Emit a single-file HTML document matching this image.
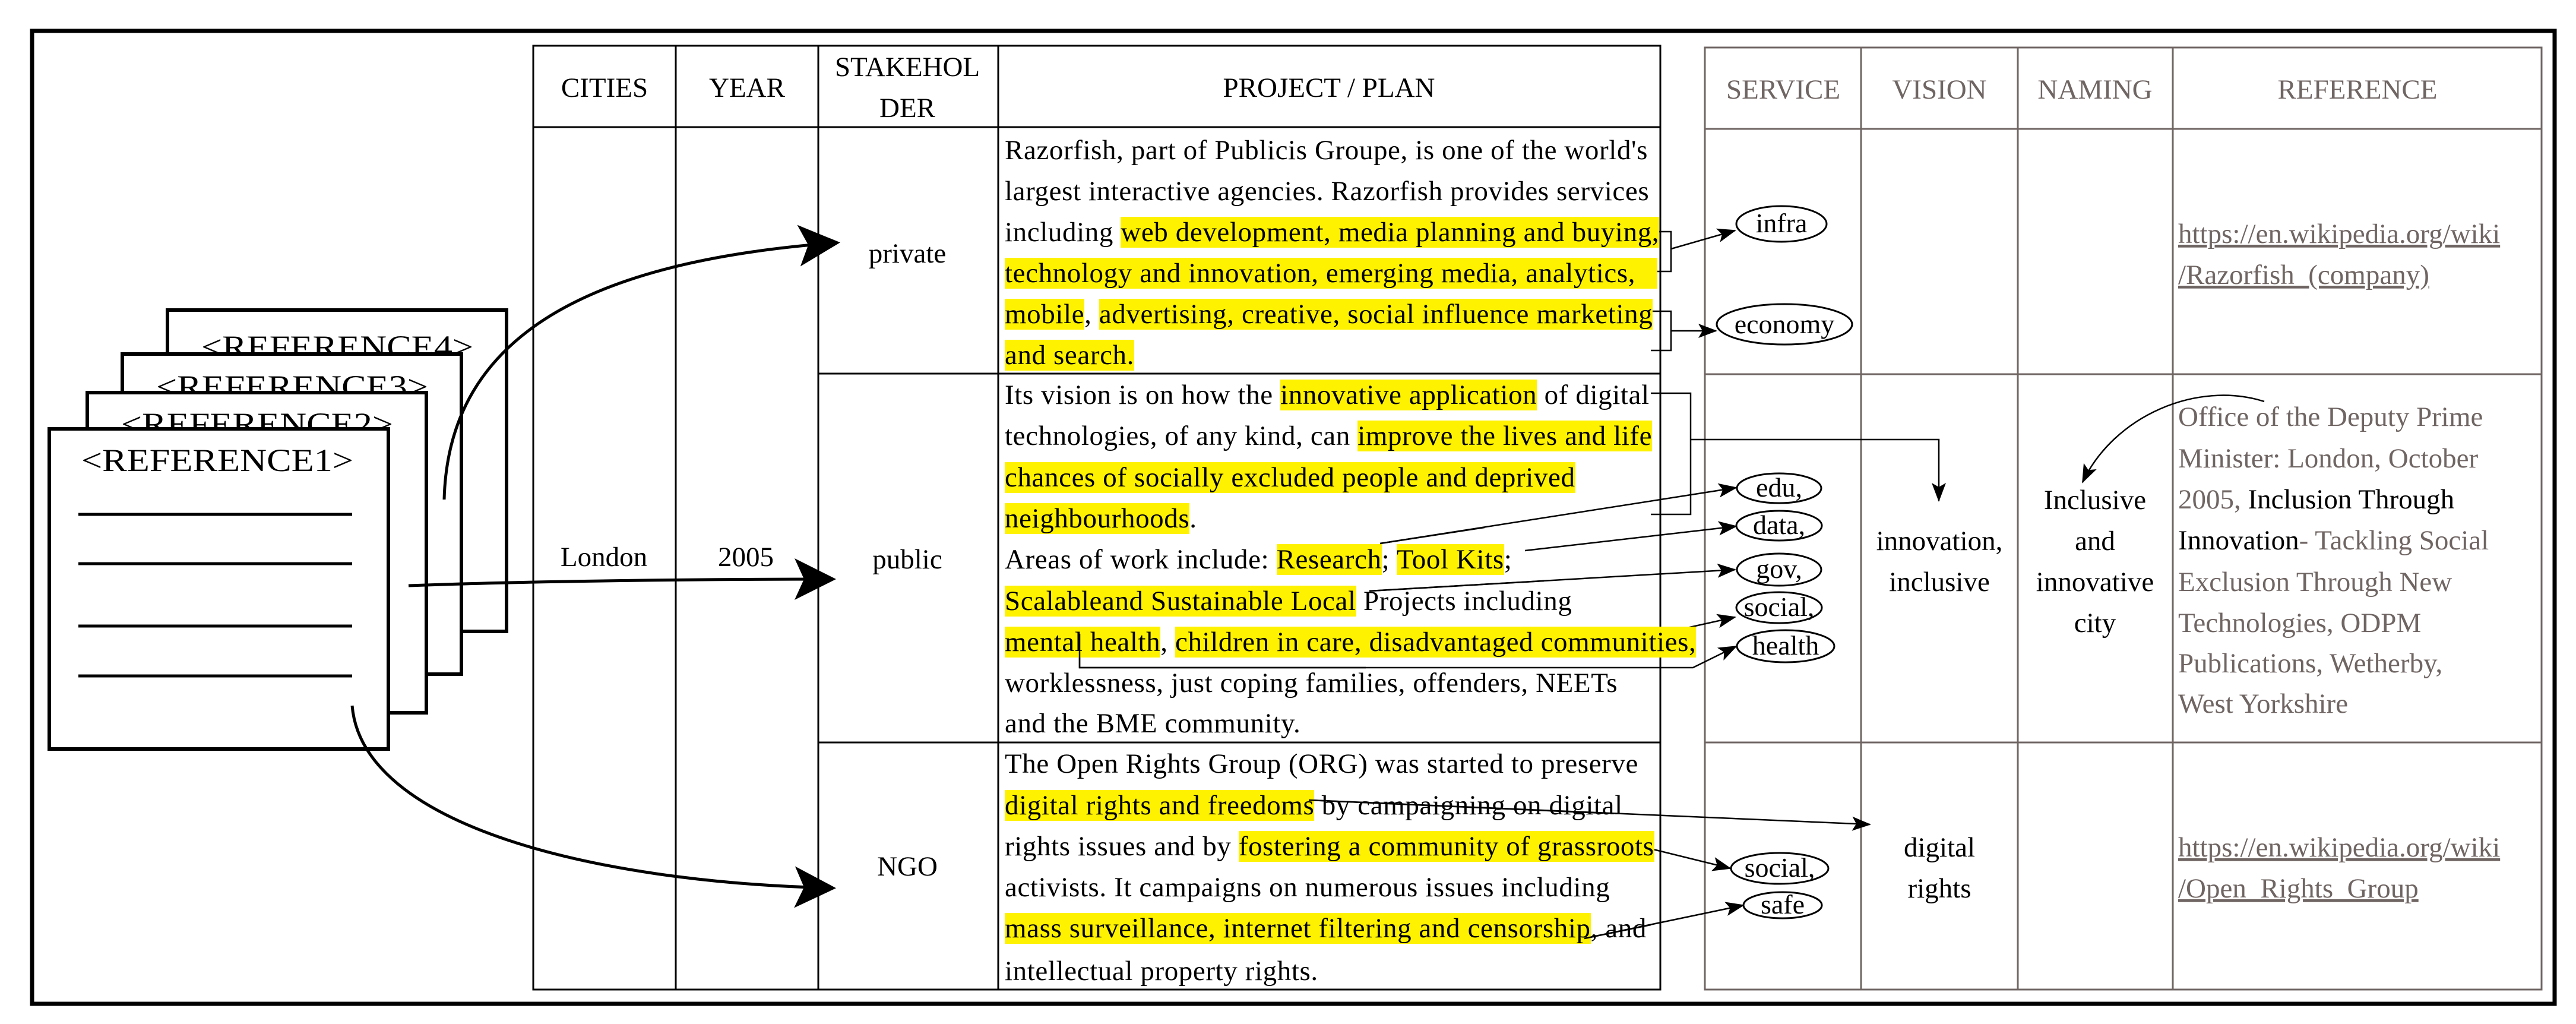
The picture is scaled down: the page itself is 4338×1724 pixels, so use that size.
<!DOCTYPE html>
<html><head><meta charset="utf-8"><style>
html,body{margin:0;padding:0;background:#fff}
#c{position:relative;width:4338px;height:1724px;overflow:hidden;font-family:"Liberation Serif","Times New Roman",serif}
svg{position:absolute;left:0;top:0}
.pl{position:absolute;left:1692px;white-space:nowrap;font-size:47px;letter-spacing:0.6px;line-height:69px;height:69px;color:#000}
.h{background:#fff200}
</style></head><body><div id="c">
<svg width="4338" height="1724" viewBox="0 0 4338 1724" xmlns="http://www.w3.org/2000/svg" font-family="'Liberation Serif', 'Times New Roman', serif">
<defs>
<marker id="big" markerUnits="userSpaceOnUse" markerWidth="80" markerHeight="80" refX="60" refY="35" orient="auto"><path d="M0,0 L70,35 L0,70 L16,35 z" fill="#000"/></marker>
<marker id="sm" markerUnits="userSpaceOnUse" markerWidth="40" markerHeight="40" refX="30" refY="12" orient="auto"><path d="M0,0 L32,12 L0,24 L7,12 z" fill="#000"/></marker>
</defs>
<rect x="54" y="52" width="4248" height="1638" fill="none" stroke="#000" stroke-width="7"/>
<g stroke="#000" stroke-width="6" fill="#fff">
<rect x="282" y="522" width="571" height="541"/>
<text x="339" y="602" font-size="54" stroke="none" fill="#000" textLength="458" lengthAdjust="spacingAndGlyphs">&lt;REFERENCE4&gt;</text>
<rect x="206" y="596" width="571" height="539"/>
<text x="263" y="669" font-size="54" stroke="none" fill="#000" textLength="458" lengthAdjust="spacingAndGlyphs">&lt;REFERENCE3&gt;</text>
<rect x="147" y="661" width="571" height="539"/>
<text x="204" y="732" font-size="54" stroke="none" fill="#000" textLength="458" lengthAdjust="spacingAndGlyphs">&lt;REFERENCE2&gt;</text>
<rect x="83" y="722" width="571" height="539"/>
<text x="137" y="793" font-size="54" stroke="none" fill="#000" textLength="458" lengthAdjust="spacingAndGlyphs">&lt;REFERENCE1&gt;</text>
</g>
<g stroke="#000" stroke-width="5">
<line x1="132" y1="866" x2="593" y2="866"/><line x1="132" y1="949" x2="593" y2="949"/>
<line x1="132" y1="1054" x2="593" y2="1054"/><line x1="132" y1="1138" x2="593" y2="1138"/>
</g>
<g stroke="#000" stroke-width="3" fill="none">
<rect x="898" y="77" width="1898" height="1589"/>
<line x1="898" y1="214" x2="2796" y2="214"/>
<line x1="1138" y1="77" x2="1138" y2="1666"/>
<line x1="1378" y1="77" x2="1378" y2="1666"/>
<line x1="1681" y1="77" x2="1681" y2="1666"/>
<line x1="1378" y1="629" x2="2796" y2="629"/>
<line x1="1378" y1="1250" x2="2796" y2="1250"/>
</g>
<g font-size="47" text-anchor="middle" fill="#000">
<text x="1018" y="163">CITIES</text><text x="1258" y="163">YEAR</text>
<text x="1528" y="128">STAKEHOL</text><text x="1528" y="197">DER</text>
<text x="2238" y="163">PROJECT / PLAN</text>
<text x="1528" y="442">private</text><text x="1528" y="957">public</text><text x="1528" y="1474">NGO</text>
<text x="1017" y="953">London</text><text x="1256" y="953">2005</text>
</g>
<g stroke="#6f6563" stroke-width="3" fill="none">
<rect x="2871" y="80" width="1409" height="1586"/>
<line x1="2871" y1="217" x2="4280" y2="217"/>
<line x1="2871" y1="630" x2="4280" y2="630"/>
<line x1="2871" y1="1250" x2="4280" y2="1250"/>
<line x1="3134" y1="80" x2="3134" y2="1666"/>
<line x1="3398" y1="80" x2="3398" y2="1666"/>
<line x1="3659" y1="80" x2="3659" y2="1666"/>
</g>
<g font-size="47" text-anchor="middle" fill="#6f6563">
<text x="3003" y="166">SERVICE</text><text x="3266" y="166">VISION</text><text x="3528" y="166">NAMING</text><text x="3970" y="166">REFERENCE</text>
</g>
<g font-size="47" text-anchor="middle" fill="#000">
<text x="3266" y="926">innovation,</text><text x="3266" y="995">inclusive</text>
<text x="3266" y="1442">digital</text><text x="3266" y="1511">rights</text>
<text x="3528" y="857">Inclusive</text><text x="3528" y="926">and</text><text x="3528" y="995">innovative</text><text x="3528" y="1064">city</text>
</g>
<g font-size="47" fill="#6f6563">
<text x="3668" y="409" text-decoration="underline">https://en.wikipedia.org/wiki</text>
<text x="3668" y="478" text-decoration="underline">/Razorfish_(company)</text>
<text x="3668" y="717">Office of the Deputy Prime</text>
<text x="3668" y="787">Minister: London, October</text>
<text x="3668" y="856">2005, <tspan fill="#000">Inclusion Through</tspan></text>
<text x="3668" y="925"><tspan fill="#000">Innovation</tspan>- Tackling Social</text>
<text x="3668" y="995">Exclusion Through New</text>
<text x="3668" y="1064">Technologies, ODPM</text>
<text x="3668" y="1132">Publications, Wetherby,</text>
<text x="3668" y="1200">West Yorkshire</text>
<text x="3668" y="1442" text-decoration="underline">https://en.wikipedia.org/wiki</text>
<text x="3668" y="1511" text-decoration="underline">/Open_Rights_Group</text>
</g>
<g stroke="#000" stroke-width="3" fill="#fff">
<ellipse cx="3000" cy="377" rx="76" ry="30"/>
<ellipse cx="3005" cy="546" rx="114" ry="34"/>
<ellipse cx="2996" cy="822" rx="71" ry="25"/>
<ellipse cx="2996" cy="885" rx="72" ry="25"/>
<ellipse cx="2996" cy="959" rx="71" ry="27"/>
<ellipse cx="2996" cy="1023" rx="72" ry="26"/>
<ellipse cx="3007" cy="1088" rx="82" ry="27"/>
<ellipse cx="2997" cy="1462" rx="82" ry="26"/>
<ellipse cx="3002" cy="1524" rx="66" ry="22"/>
</g>
<g font-size="46" text-anchor="middle" fill="#000">
<text x="3000" y="391">infra</text><text x="3005" y="561">economy</text>
<text x="2996" y="836">edu,</text><text x="2996" y="899">data,</text><text x="2996" y="973">gov,</text>
<text x="2996" y="1037">social,</text><text x="3007" y="1102">health</text>
<text x="2997" y="1476">social,</text><text x="3002" y="1538">safe</text>
</g>
<g stroke="#000" stroke-width="5" fill="none">
<path d="M748,841 C755,560 1000,440 1405,409" marker-end="url(#big)"/>
<path d="M688,986 C900,978 1200,975 1398,975" marker-end="url(#big)"/>
<path d="M593,1188 C610,1390 1000,1485 1398,1495" marker-end="url(#big)"/>
</g>
<g stroke="#000" stroke-width="2.5" fill="none">
<polyline points="2780,390 2814,390 2814,457 2780,457"/>
<line x1="2814" y1="419" x2="2922" y2="388" marker-end="url(#sm)"/>
<polyline points="2780,524 2814,524 2814,590 2780,590"/>
<line x1="2814" y1="557" x2="2890" y2="557" marker-end="url(#sm)"/>
<polyline points="2780,662 2847,662 2847,866 2780,866"/>
<polyline points="2847,740 3265,740 3265,843" marker-end="url(#sm)"/>
<line x1="2324" y1="915" x2="2924" y2="821" marker-end="url(#sm)"/>
<line x1="2568" y1="927" x2="2924" y2="886" marker-end="url(#sm)"/>
<line x1="2306" y1="995" x2="2922" y2="959" marker-end="url(#sm)"/>
<line x1="2796" y1="1067" x2="2922" y2="1039" marker-end="url(#sm)"/>
<polyline points="1818,1067 1818,1124 2851,1124 2924,1088" marker-end="url(#sm)"/>
<line x1="2204" y1="1347" x2="3149" y2="1388" marker-end="url(#sm)"/>
<line x1="2780" y1="1429" x2="2914" y2="1462" marker-end="url(#sm)"/>
<line x1="2668" y1="1580" x2="2936" y2="1524" marker-end="url(#sm)"/>
<path d="M3813,676 C3700,640 3560,700 3507,812" marker-end="url(#sm)"/>
</g>
</svg>
<div class="pl" style="top:219px">Razorfish, part of Publicis Groupe, is one of the world's</div>
<div class="pl" style="top:288px">largest interactive agencies. Razorfish provides services</div>
<div class="pl" style="top:357px">including <span class="h">web development, media planning and buying, </span></div>
<div class="pl" style="top:426px"><span class="h">technology and innovation, emerging media, analytics, &nbsp;&nbsp;</span></div>
<div class="pl" style="top:495px"><span class="h">mobile</span>, <span class="h">advertising, creative, social influence marketing </span></div>
<div class="pl" style="top:564px"><span class="h">and search. </span></div>
<div class="pl" style="top:631px">Its vision is on how the <span class="h">innovative application</span> of digital</div>
<div class="pl" style="top:700px">technologies, of any kind, can <span class="h">improve the lives and life</span></div>
<div class="pl" style="top:770px"><span class="h">chances of socially excluded people and deprived </span></div>
<div class="pl" style="top:839px"><span class="h">neighbourhoods</span>.</div>
<div class="pl" style="top:908px">Areas of work include: <span class="h">Research</span>; <span class="h">Tool Kits</span>;</div>
<div class="pl" style="top:978px"><span class="h">Scalableand Sustainable Local</span> Projects including</div>
<div class="pl" style="top:1047px"><span class="h">mental health</span>, <span class="h">children in care, disadvantaged communities,</span></div>
<div class="pl" style="top:1116px">worklessness, just coping families, offenders, NEETs</div>
<div class="pl" style="top:1184px">and the BME community.</div>
<div class="pl" style="top:1252px">The Open Rights Group (ORG) was started to preserve</div>
<div class="pl" style="top:1322px"><span class="h">digital rights and freedoms</span> by campaigning on digital</div>
<div class="pl" style="top:1391px">rights issues and by <span class="h">fostering a community of grassroots</span></div>
<div class="pl" style="top:1460px">activists. It campaigns on numerous issues including</div>
<div class="pl" style="top:1529px"><span class="h">mass surveillance, internet filtering and censorship</span>, and</div>
<div class="pl" style="top:1601px">intellectual property rights.</div>
<svg width="4338" height="1724" style="pointer-events:none">
<g stroke="#000" stroke-width="2.5" fill="none">
<line x1="2324" y1="915" x2="2500" y2="888"/>
<line x1="2306" y1="995" x2="2600" y2="978"/>
<polyline points="1818,1067 1818,1124 2300,1124"/>
<line x1="2204" y1="1347" x2="2700" y2="1369"/>
<line x1="2668" y1="1580" x2="2780" y2="1557"/>
</g>
</svg>
</div></body></html>
